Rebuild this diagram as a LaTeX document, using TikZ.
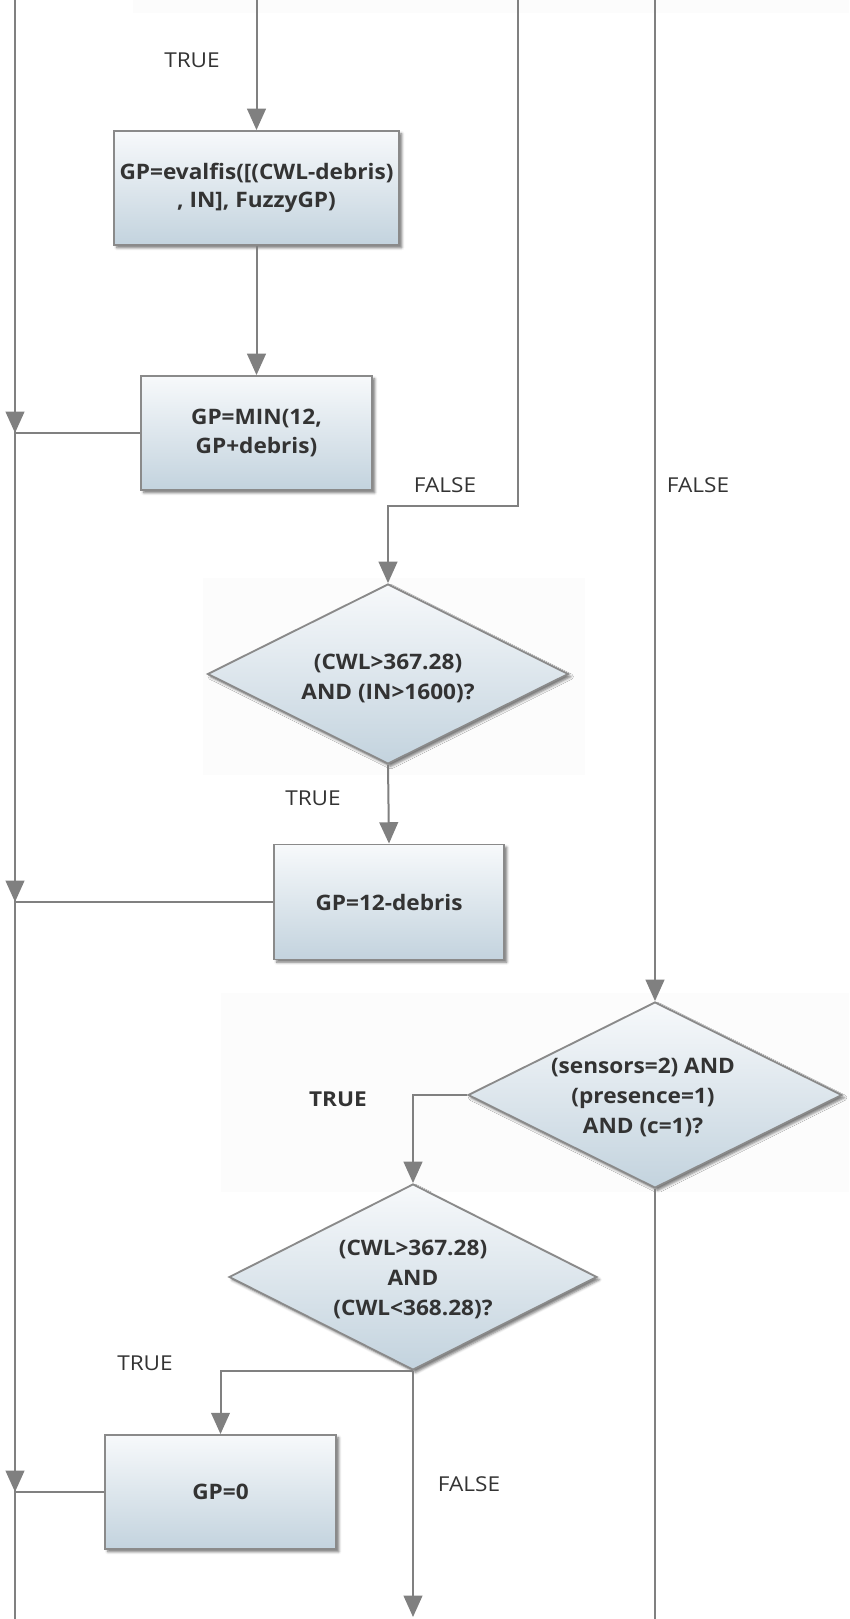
\documentclass[tikz,border=0pt]{standalone}
\usepackage{fontspec}
\setmainfont{Open Sans}
\newfontfamily\blockfont{Open Sans}[FakeStretch=1.06]
\newfontfamily\tagfont{Open Sans}[FakeStretch=1.1]
\usetikzlibrary{arrows.meta,shapes.geometric,shadows.blur}
\definecolor{linegray}{HTML}{808080}
\definecolor{edgegray}{HTML}{8A8A8A}
\definecolor{inkgray}{HTML}{333333}
\definecolor{shadetop}{HTML}{F7F9FB}
\definecolor{shadebot}{HTML}{C3D3DE}
\definecolor{patch}{HTML}{FCFCFC}
\tikzset{
  conn/.style={draw=linegray, line width=1.5pt},
  arr/.style={conn, -{Triangle[width=14pt,length=16pt]}},
  blocktext/.style={text=inkgray, align=center,
    font=\blockfont\fontsize{16pt}{21.5pt}\selectfont\bfseries},
  procbox/.style={rectangle, draw=edgegray, line width=1.4pt,
    top color=shadetop, bottom color=shadebot, inner sep=0pt, blocktext,
    blur shadow={shadow xshift=2pt, shadow yshift=-2pt, shadow blur radius=2pt, shadow opacity=55}},
  decide/.style={diamond, shape aspect=2, draw=edgegray, line width=1.4pt,
    top color=shadetop, bottom color=shadebot, inner sep=0pt, blocktext,
    font=\blockfont\fontsize{16pt}{22.5pt}\selectfont\bfseries,
    blur shadow={shadow xshift=2pt, shadow yshift=-2pt, shadow blur radius=2pt, shadow opacity=55}},
  lbl/.style={text=inkgray, font=\tagfont\fontsize{15.4pt}{18pt}\selectfont, inner sep=0pt},
  lblb/.style={lbl, font=\tagfont\fontsize{15.4pt}{18pt}\selectfont\bfseries},
}
\begin{document}
\begin{tikzpicture}[x=0.75pt, y=-0.75pt]
\useasboundingbox (0,0) rectangle (849,1619);
% faint backing patches
\fill[patch] (133,0) rectangle (849,13);
\fill[patch] (203,578) rectangle (585,775);
\fill[patch] (221,993) rectangle (849,1192);

% process and decision blocks
\node[procbox, minimum width=0.75*285pt, minimum height=0.75*114pt] (b1) at (256.5,188)
  {GP=evalfis([(CWL-debris)\\, IN], FuzzyGP)};
\node[procbox, minimum width=0.75*231pt, minimum height=0.75*114pt] (b2) at (256.5,433)
  {GP=MIN(12,\\GP+debris)};
\node[decide, minimum width=0.75*361pt, minimum height=0.75*180pt] (d1) at (388,674) {};
\node[blocktext, font=\blockfont\fontsize{16pt}{22.5pt}\selectfont\bfseries] (d1t) at (388,678)
  {(CWL>367.28)\\AND (IN>1600)?};
\node[procbox, minimum width=0.75*230pt, minimum height=0.75*115pt] (b3) at (389,902)
  {GP=12-debris};
\node[decide, minimum width=0.75*374pt, minimum height=0.75*186pt] (d2) at (655,1095) {};
\node[blocktext, font=\blockfont\fontsize{16pt}{22.5pt}\selectfont\bfseries] (d2t) at (643,1097)
  {(sensors=2) AND\\(presence=1)\\AND (c=1)?};
\node[decide, minimum width=0.75*368pt, minimum height=0.75*186pt] (d3) at (413,1277) {};
\node[blocktext, font=\blockfont\fontsize{16pt}{22.5pt}\selectfont\bfseries] (d3t) at (413,1279)
  {(CWL>367.28)\\AND\\(CWL<368.28)?};
\node[procbox, minimum width=0.75*231pt, minimum height=0.75*114pt] (b4) at (220.5,1492)
  {GP=0};

% free ends of the incoming and outgoing lines
\coordinate (bustop) at (15,0);
\coordinate (busbot) at (15,1619);
\coordinate (in1) at (256.5,0);
\coordinate (in2) at (518,0);
\coordinate (in3) at (655,0);
\coordinate (out1) at (413,1617);
\coordinate (out2) at (655,1619);

% collecting bus on the left
\draw[conn] (bustop) -- (busbot);
\foreach \b in {b2,b3,b4}{
  \draw[conn] (\b.west) -- (bustop |- \b.west);
  \draw[arr] ([yshift=22pt]bustop |- \b.west) -- (bustop |- \b.west);
}

% flow
\draw[arr] (in1) -- (b1.north);
\draw[arr] (b1.south) -- (b2.north);
\draw[arr] (in2) -- (518,506) -| (d1.north);
\draw[arr] (d1.south) -- (b3.north);
\draw[arr] (in3) -- (d2.north);
\draw[arr] (d2.west) -| (d3.north);
\draw[arr] (d3.south) -| (b4.north);
\draw[arr] (d3.south) -- (out1);
\draw[conn] (d2.south) -- (out2);

% branch labels
\node[lbl] (t1) at (192,60) {TRUE};
\node[lbl] (f1) at (445,485) {FALSE};
\node[lbl] (f2) at (698,485) {FALSE};
\node[lbl] (t2) at (313,798) {TRUE};
\node[lblb] (t3) at (338,1099) {TRUE};
\node[lbl] (t4) at (145,1363) {TRUE};
\node[lbl] (f3) at (469,1484) {FALSE};
\end{tikzpicture}
\end{document}
